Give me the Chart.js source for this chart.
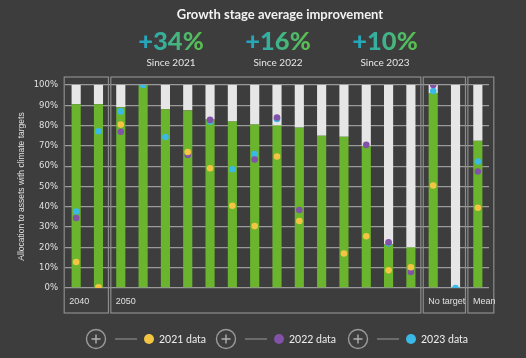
<!DOCTYPE html>
<html>
<head>
<meta charset="utf-8">
<script src="https://cdn.jsdelivr.net/npm/chart.js@4.4.1/dist/chart.umd.min.js"></script>
<style>
  html, body { margin: 0; padding: 0; background: #3d3d3d; width: 526px; height: 358px; overflow: hidden; }
  #wrap { position: absolute; left: 0; top: 0; width: 526px; height: 358px; }
  .abs { position: absolute; white-space: nowrap; transform: translate(-50%, -50%); }
  #title { left: 280px; top: 14px; font: bold 13px Lato, sans-serif; color: #f2f2f2; }
  .big { font: 900 25.5px Lato, sans-serif; background: linear-gradient(90deg, #1fa3c8 0%, #3fb38a 50%, #5cbf4a 100%);
         -webkit-background-clip: text; background-clip: text; color: transparent; }
  .since { font: 10px Lato, sans-serif; color: #e6e6e6; }
  .leg { font: 10.5px Lato, sans-serif; color: #eeeeee; transform: translate(0, -50%); }
  svg { position: absolute; left: 0; top: 0; }
</style>
</head>
<body>
<div id="wrap"><canvas id="c" width="526" height="358"></canvas></div>
<div id="overlay"></div>
<script>
// ---- data ----
const titleText = 'Growth stage average improvement';
const headlineValues = ['+34%', '+16%', '+10%'];
const headlineLabels = ['Since 2021', 'Since 2022', 'Since 2023'];
const categories = ['2040 a', '2040 b', '2050 a', '2050 b', '2050 c', '2050 d', '2050 e', '2050 f', '2050 g',
  '2050 h', '2050 i', '2050 j', '2050 k', '2050 l', '2050 m', '2050 n', 'No target a', 'No target b', 'Mean'];
const allocation = [90.5, 90.5, 89, 100, 88, 87.5, 83, 82, 80.5, 80, 79, 75, 74.5, 70, 21.5, 20, 96, 0, 72.5];
const data2021 = [12.8, 0.3, 80.5, null, null, 67, 59, 40.5, 30.5, 64.8, 33, null, 17, 25.5, 8.7, 10.2, 50.5, null, 39.5];
const data2022 = [34.5, null, 77, null, null, 65.5, 82.8, null, 63.3, 84, 38.4, null, null, 70.5, 22.5, 7.9, 100, null, 57.4];
const data2023 = [37.7, 77.2, 87, 100, 74.4, null, 82, 58.5, 66, 83.3, null, null, null, null, 22, 8.5, 97, 0, 62.3];
const groups = [
  { label: '2040', from: 0, to: 1 },
  { label: '2050', from: 2, to: 15 },
  { label: 'No target', from: 16, to: 17 },
  { label: 'Mean', from: 18, to: 18 }
];
const yTicks = [0, 10, 20, 30, 40, 50, 60, 70, 80, 90, 100];
const legendLabels = ['2021 data', '2022 data', '2023 data'];
const dotColors = ['#f4c542', '#8251a8', '#3bb9e6'];

// ---- overlay text ----
const ov = document.getElementById('overlay');
function addDiv(cls, text, x, y, id) {
  const d = document.createElement('div');
  d.className = cls; d.textContent = text;
  d.style.left = x + 'px'; d.style.top = y + 'px';
  if (id) d.id = id;
  ov.appendChild(d);
  return d;
}
addDiv('abs', titleText, 280, 14, 'title');
const headX = [171, 278, 385];
headlineValues.forEach((v, i) => {
  addDiv('abs big', v, headX[i], 40);
  addDiv('abs since', headlineLabels[i], headX[i], 62);
});

// legend
const svgNS = 'http://www.w3.org/2000/svg';
const svg = document.createElementNS(svgNS, 'svg');
svg.setAttribute('width', 526); svg.setAttribute('height', 358);
const legY = 339;
const plusX = [96, 226, 358];
plusX.forEach((px, i) => {
  const c = document.createElementNS(svgNS, 'circle');
  c.setAttribute('cx', px); c.setAttribute('cy', legY); c.setAttribute('r', 9.5);
  c.setAttribute('fill', 'none'); c.setAttribute('stroke', '#9a9a9a'); c.setAttribute('stroke-width', 1.4);
  svg.appendChild(c);
  const p = document.createElementNS(svgNS, 'path');
  p.setAttribute('d', `M${px - 4.5} ${legY} H${px + 4.5} M${px} ${legY - 4.5} V${legY + 4.5}`);
  p.setAttribute('stroke', '#b0b0b0'); p.setAttribute('stroke-width', 1.4);
  svg.appendChild(p);
  const l = document.createElementNS(svgNS, 'line');
  l.setAttribute('x1', px + 19); l.setAttribute('x2', px + 41);
  l.setAttribute('y1', legY); l.setAttribute('y2', legY);
  l.setAttribute('stroke', '#9a9a9a'); l.setAttribute('stroke-width', 1);
  svg.appendChild(l);
  const d = document.createElementNS(svgNS, 'circle');
  d.setAttribute('cx', px + 53); d.setAttribute('cy', legY); d.setAttribute('r', 5);
  d.setAttribute('fill', dotColors[i]);
  svg.appendChild(d);
});
ov.appendChild(svg);
legendLabels.forEach((t, i) => addDiv('abs leg', t, plusX[i] + 63, legY));

// ---- group boxes plugin ----
const groupBoxes = {
  id: 'groupBoxes',
  beforeDatasetsDraw(chart) {
    const { ctx, chartArea } = chart;
    const xs = chart.scales.x;
    const half = (xs.getPixelForValue(1) - xs.getPixelForValue(0)) / 2;
    ctx.save();
    ctx.strokeStyle = '#8c8c8c';
    ctx.lineWidth = 1.2;
    ctx.font = '9px "Liberation Sans", sans-serif';
    ctx.fillStyle = '#e0e0e0';
    ctx.textBaseline = 'middle';
    const top = chartArea.top - 8, bottom = chartArea.bottom + 25;
    groups.forEach((g, gi) => {
      let l = xs.getPixelForValue(g.from) - half + 1.2;
      let r = xs.getPixelForValue(g.to) + half - 1.2;
      if (gi === 0) l -= 2;
      if (gi === groups.length - 1) r += 6;
      ctx.strokeRect(l, top, r - l, bottom - top);
      ctx.fillText(g.label, l + 5, chartArea.bottom + 14);
    });
    ctx.restore();
  }
};

new Chart(document.getElementById('c'), {
  type: 'bar',
  data: {
    labels: categories,
    datasets: [
      { type: 'line', label: legendLabels[0], data: data2021, yAxisID: 'y2', showLine: false, order: 1,
        pointRadius: 3.3, pointHoverRadius: 3.3, pointBorderWidth: 0, pointBackgroundColor: dotColors[0], borderColor: dotColors[0] },
      { type: 'line', label: legendLabels[1], data: data2022, yAxisID: 'y2', showLine: false, order: 2,
        pointRadius: 3.3, pointHoverRadius: 3.3, pointBorderWidth: 0, pointBackgroundColor: dotColors[1], borderColor: dotColors[1] },
      { type: 'line', label: legendLabels[2], data: data2023, yAxisID: 'y2', showLine: false, order: 3,
        pointRadius: 3.3, pointHoverRadius: 3.3, pointBorderWidth: 0, pointBackgroundColor: dotColors[2], borderColor: dotColors[2] },
      { label: 'Allocation', data: allocation, backgroundColor: '#6ab42e', order: 5, stack: 's' },
      { label: 'Remainder', data: allocation.map(v => 100 - v), backgroundColor: '#e6e6e6', order: 6, stack: 's' }
    ]
  },
  options: {
    responsive: false,
    animation: false,
    events: [],
    layout: { padding: { top: 85, right: 37, bottom: 70, left: 0 } },
    datasets: { bar: { categoryPercentage: 1, barPercentage: 0.41 } },
    plugins: { legend: { display: false }, tooltip: { enabled: false }, title: { display: false } },
    scales: {
      x: { stacked: true, display: false, offset: true },
      y: {
        stacked: true, min: 0, max: 100,
        afterFit: s => { s.width = 65; },
        afterBuildTicks: s => { s.ticks = yTicks.map(v => ({ value: v })); },
        border: { display: false },
        grid: { color: '#9a9a9a', lineWidth: 1.3, drawTicks: false },
        ticks: { color: '#e0e0e0', padding: 7, font: { family: '"DejaVu Sans", sans-serif', size: 8.5 }, callback: v => v + '%' },
        title: { display: true, text: 'Allocation to assets with climate targets', color: '#e0e0e0',
                 font: { family: '"Liberation Sans", sans-serif', size: 8.5 }, padding: { top: 17 } }
      },
      y2: { display: false, min: 0, max: 100 }
    }
  },
  plugins: [groupBoxes]
});
</script>
</body>
</html>
